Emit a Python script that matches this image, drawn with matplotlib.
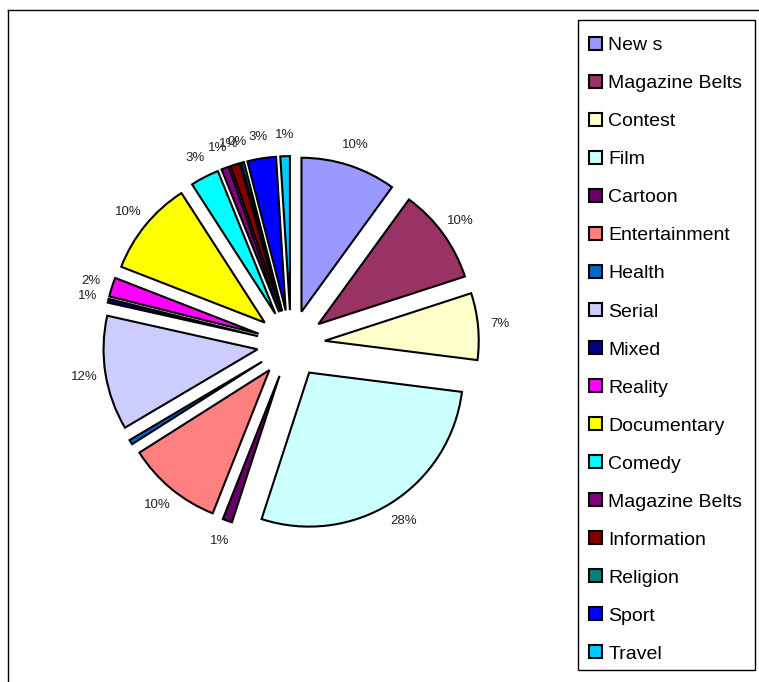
import numpy as np
from matplotlib import pyplot as plt
from matplotlib.lines import Line2D
from matplotlib.patches import Rectangle

plt.rcParams['font.family'] = ['Liberation Sans', 'DejaVu Sans']

categories = ['New s', 'Magazine Belts', 'Contest', 'Film', 'Cartoon', 'Entertainment',
              'Health', 'Serial', 'Mixed', 'Reality', 'Documentary', 'Comedy',
              'Magazine Belts', 'Information', 'Religion', 'Sport', 'Travel']
shares = [10, 10, 7, 28, 1, 10, 0.5, 12, 0.4, 2, 10, 3, 0.8, 1, 0.3, 3, 1]
pct_labels = ['10%', '10%', '7%', '28%', '1%', '10%', '', '12%', '1%', '2%', '10%',
              '3%', '1%', '1%', '0%', '3%', '1%']
colors = ['#9999FF', '#993366', '#FFFFCC', '#CCFFFF', '#660066', '#FF8080',
          '#0066CC', '#CCCCFF', '#000080', '#FF00FF', '#FFFF00', '#00FFFF',
          '#800080', '#800000', '#008080', '#0000FF', '#00CCFF']

W, H = 759, 682
fig = plt.figure(figsize=(W / 100, H / 100), dpi=100)

# outer frame (left + top edges visible)
fig.add_artist(Line2D([8 / W, 8 / W], [0, 1 - 10 / H], color='black', lw=1))
fig.add_artist(Line2D([8 / W, 1], [1 - 10 / H, 1 - 10 / H], color='black', lw=1))

# pie axes: centre ~ (291, 344) px, radius ~154 px
cx, cy, r = 291, 344, 154
ax = fig.add_axes([(cx - 1.5 * r) / W, (H - cy - 1.5 * r) / H, 3 * r / W, 3 * r / H])
explode = [0.22] * len(shares)
wedges, _ = ax.pie(shares, colors=colors, explode=explode, startangle=90,
                   counterclock=False,
                   wedgeprops=dict(edgecolor='black', linewidth=1.5))
ax.set_xlim(-1.5, 1.5)
ax.set_ylim(-1.5, 1.5)
ax.set_aspect('equal')
ax.axis('off')

for w, lab in zip(wedges, pct_labels):
    if not lab:
        continue
    ang = np.deg2rad((w.theta1 + w.theta2) / 2)
    d = 1.36
    ax.text(d * np.cos(ang), d * np.sin(ang), lab, ha='center', va='center',
            fontsize=9.5, color='#222222')

# legend box drawn separately so the padding can differ per side
fig.add_artist(Rectangle((578 / W, 12 / H), 177 / W, 650 / H, transform=fig.transFigure,
                         fill=False, edgecolor='black', lw=1))
leg = fig.legend(wedges, categories, loc='upper left',
                 bbox_to_anchor=(589 / W, 1 - 37 / H), frameon=False,
                 fontsize=14, handlelength=0.65, handleheight=0.65,
                 handletextpad=0.35, labelspacing=1.065, borderpad=0,
                 borderaxespad=0)

fig.savefig('out.png', dpi=100)
